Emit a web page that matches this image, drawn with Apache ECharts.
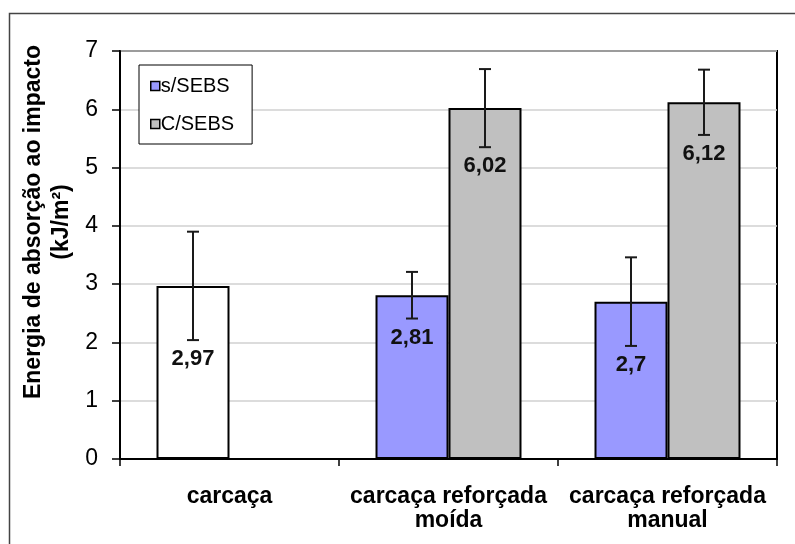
<!DOCTYPE html>
<html>
<head>
<meta charset="utf-8">
<script src="https://cdn.jsdelivr.net/npm/echarts@6/dist/echarts.min.js"></script>
<style>html,body{margin:0;padding:0;background:#fff}#c{width:795px;height:544px}</style>
</head>
<body>
<div id="c"></div>
<script>
const categories = ['carcaça', 'carcaça reforçada\nmoída', 'carcaça reforçada\nmanual'];
const seriesNames = ['s/SEBS', 'C/SEBS'];
const sSEBS = [2.97, 2.81, 2.70];
const cSEBS = [null, 6.02, 6.12];
const sSEBSErr = [0.93, 0.40, 0.76];
const cSEBSErr = [null, 0.67, 0.56];
const yTicks = [0, 1, 2, 3, 4, 5, 6, 7];
const yTitle = 'Energia de absorção ao impacto\n(kJ/m²)';

const fmt = v => String(v).replace('.', ',');
const FONT = 'Liberation Sans, Arial, sans-serif';

function errData(vals, errs) {
  return vals.map((v, i) => v == null ? null : [i, v - errs[i], v + errs[i], v]).filter(d => d);
}
function errRender(side) {
  return function (params, api) {
    const ci = api.value(0);
    const low = api.coord([ci, api.value(1)]);
    const high = api.coord([ci, api.value(2)]);
    const bw = api.size([1, 0])[0] / 3;
    const x = low[0] + side * bw / 2;
    const cap = 6;
    const st = { stroke: '#1a1a1a', lineWidth: 2 };
    return {
      type: 'group',
      children: [
        { type: 'line', shape: { x1: x, y1: high[1], x2: x, y2: low[1] }, style: st },
        { type: 'line', shape: { x1: x - cap, y1: high[1], x2: x + cap, y2: high[1] }, style: st },
        { type: 'line', shape: { x1: x - cap, y1: low[1], x2: x + cap, y2: low[1] }, style: st },
        { type: 'text', x: x, y: low[1] + 19,
          style: { text: fmt(api.value(3)), font: 'bold 22px ' + FONT, fill: '#111',
                   align: 'center', verticalAlign: 'middle' } }
      ]
    };
  };
}

const chart = echarts.init(document.getElementById('c'), null, { renderer: 'canvas' });
chart.setOption({
  animation: false,
  backgroundColor: '#fff',
  grid: { left: 120, right: 18, top: 51, bottom: 85, show: true, borderColor: '#000', borderWidth: 2, backgroundColor: 'transparent' },
  legend: {
    orient: 'vertical', left: 139, top: 65,
    backgroundColor: '#fff', borderColor: '#000', borderWidth: 1,
    padding: [11, 18, 10, 11], itemGap: 18, itemWidth: 9, itemHeight: 9,
    textStyle: { fontFamily: FONT, fontSize: 20, color: '#000', padding: [0, 0, 0, -4] },
    data: [
      { name: seriesNames[0], icon: 'rect', itemStyle: { color: '#9999ff', borderColor: '#000', borderWidth: 1.5 } },
      { name: seriesNames[1], icon: 'rect', itemStyle: { color: '#c0c0c0', borderColor: '#000', borderWidth: 1.5 } }
    ]
  },
  xAxis: {
    type: 'category', data: categories, boundaryGap: true,
    axisLine: { lineStyle: { color: '#000', width: 2 } },
    axisTick: { show: true, length: 7, lineStyle: { color: '#000', width: 1.5 } },
    axisLabel: { margin: 26, fontFamily: FONT, fontSize: 23, fontWeight: 'bold', color: '#000', lineHeight: 24, interval: 0 },
    splitLine: { show: false }
  },
  yAxis: {
    type: 'value', min: yTicks[0], max: yTicks[yTicks.length - 1], interval: 1,
    axisLine: { show: true, lineStyle: { color: '#000', width: 2 } },
    axisTick: { show: true, length: 8, lineStyle: { color: '#000', width: 1.5 } },
    axisLabel: { margin: 22, fontFamily: FONT, fontSize: 23, color: '#000' },
    splitLine: { show: true, lineStyle: { color: '#d0d0d0', width: 1.5 } }
  },
  graphic: [
    { type: 'rect', left: 7, top: 11, shape: { width: 820, height: 600 }, style: { fill: 'none', stroke: '#444', lineWidth: 1.5 }, z: -1, silent: true },
    { type: 'text', x: 48, y: 222, rotation: Math.PI / 2,
      style: { text: yTitle, font: 'bold 23px ' + FONT, fill: '#000', align: 'center', verticalAlign: 'middle', lineHeight: 28 } }
  ],
  series: [
    { name: seriesNames[0], type: 'bar', data: sSEBS, barWidth: '33.33%', barGap: '0%',
      itemStyle: { color: p => p.dataIndex === 0 ? '#ffffff' : '#9999ff', borderColor: '#000', borderWidth: 2 } },
    { name: seriesNames[1], type: 'bar', data: cSEBS, barWidth: '33.33%', barGap: '0%',
      itemStyle: { color: '#c0c0c0', borderColor: '#000', borderWidth: 2 } },
    { type: 'custom', name: 'errS', renderItem: errRender(-1), data: errData(sSEBS, sSEBSErr), encode: { x: 0, y: [1, 2] }, z: 10 },
    { type: 'custom', name: 'errC', renderItem: errRender(1), data: errData(cSEBS, cSEBSErr), encode: { x: 0, y: [1, 2] }, z: 10 }
  ]
});
</script>
</body>
</html>
